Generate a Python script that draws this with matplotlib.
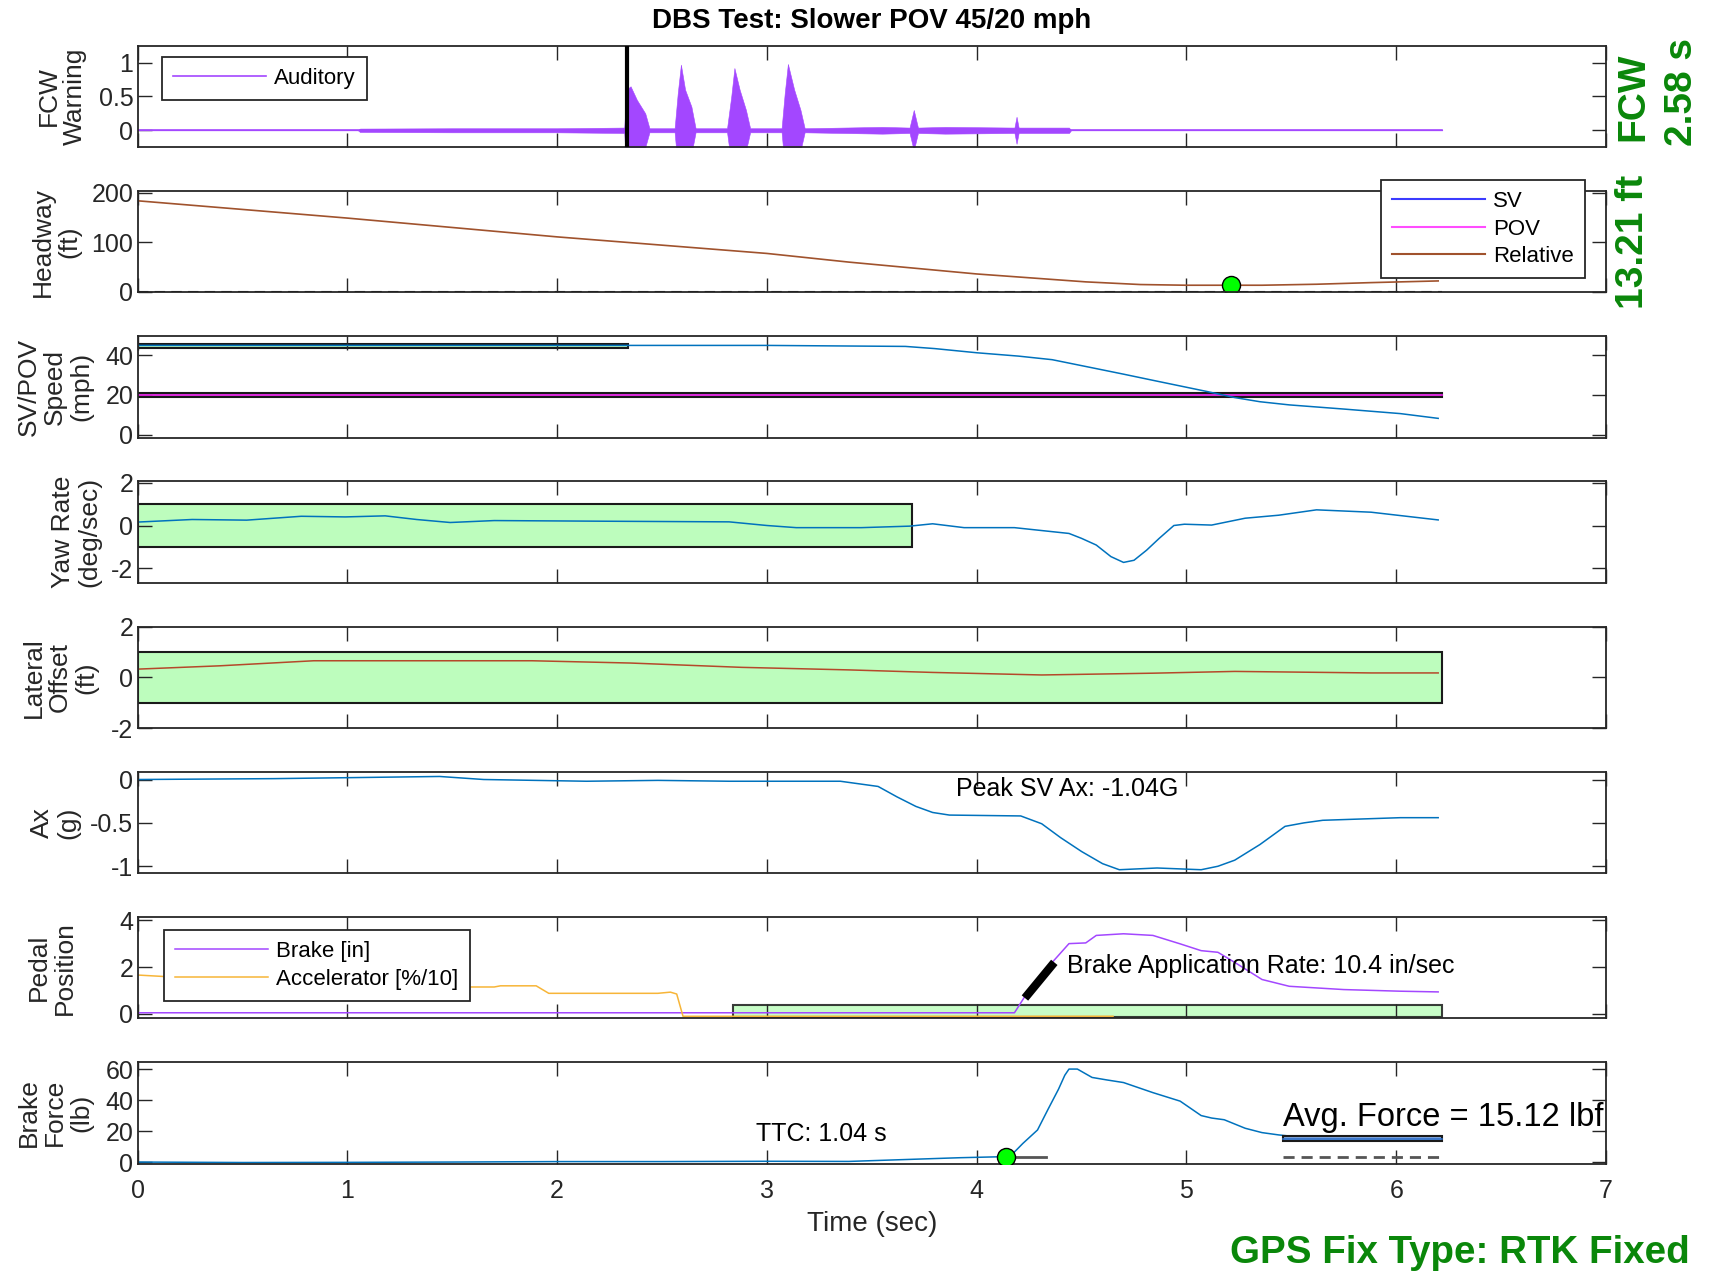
import matplotlib
matplotlib.use('Agg')
import matplotlib.pyplot as plt
from matplotlib.patches import Rectangle
from matplotlib.lines import Line2D

plt.rcParams['font.family'] = ['Liberation Sans', 'DejaVu Sans']

# ---------------- data ----------------
# FCW auditory signal, drawn as an envelope (+/- amplitude)
fcw_t = [0, 1.05, 1.06, 1.5, 2.0, 2.32, 2.33, 2.35, 2.38, 2.42, 2.44, 2.56, 2.575, 2.59,
         2.61, 2.64, 2.66, 2.81, 2.83, 2.845, 2.87, 2.90, 2.92, 3.07, 3.085, 3.10, 3.13,
         3.16, 3.18, 3.55, 3.68, 3.70, 3.72, 3.85, 4.18, 4.19, 4.20, 4.44, 4.45, 6.22]
fcw_amp = [0, 0, 0.025, 0.03, 0.03, 0.04, 0.6, 0.65, 0.45, 0.25, 0.03, 0.03, 0.55, 0.97,
           0.6, 0.35, 0.03, 0.03, 0.5, 0.92, 0.6, 0.3, 0.03, 0.03, 0.55, 0.98, 0.6,
           0.3, 0.03, 0.05, 0.04, 0.3, 0.04, 0.05, 0.04, 0.2, 0.04, 0.04, 0, 0]
fcw_time = 2.335

hw_t = [0, 1, 2, 3, 3.39, 4, 4.52, 4.78, 5.0, 5.21, 5.36, 5.62, 5.88, 6.2]
hw_rel = [184, 149, 111, 77.5, 60, 36, 20, 14.6, 13.2, 13.2, 13.2, 15.2, 18.5, 21.9]
hw_min_t, hw_min = 5.21, 13.2

sv_t = [0, 1, 2, 3, 3.39, 3.66, 3.8, 4.0, 4.2, 4.36, 4.57, 4.7, 4.84, 5.1, 5.23, 5.35,
        5.49, 5.75, 6.02, 6.2]
sv_speed = [45, 45, 45, 45, 44.7, 44.5, 43.4, 41.3, 39.6, 37.8, 33.3, 30.5, 27.4, 21.7,
            18.7, 16.6, 15, 12.9, 10.6, 8.2]
pov_speed = 20
sv_band = (0, 2.34, 43.8, 45.8)
pov_band = (0, 6.22, 18.8, 21.2)

yaw_t = [0, 0.26, 0.52, 0.78, 0.99, 1.18, 1.33, 1.49, 1.70, 2.22, 2.82, 3.0, 3.14, 3.45,
         3.68, 3.79, 3.94, 4.18, 4.44, 4.5, 4.57, 4.64, 4.70, 4.75, 4.81, 4.87, 4.94,
         4.99, 5.12, 5.28, 5.44, 5.62, 5.88, 6.2]
yaw_rate = [0.16, 0.28, 0.25, 0.43, 0.40, 0.45, 0.28, 0.14, 0.23, 0.2, 0.17, 0.0, -0.1,
            -0.1, -0.03, 0.08, -0.1, -0.1, -0.37, -0.6, -0.91, -1.45, -1.72, -1.62, -1.15,
            -0.6, 0.0, 0.06, 0.02, 0.34, 0.48, 0.73, 0.62, 0.26]
yaw_band = (0, 3.69, -1, 1)

lat_t = [0, 0.39, 0.84, 1.88, 2.35, 2.88, 3.39, 3.79, 4.31, 4.84, 5.23, 5.88, 6.2]
lat_off = [0.32, 0.45, 0.65, 0.65, 0.56, 0.39, 0.29, 0.19, 0.09, 0.16, 0.23, 0.17, 0.17]
lat_band = (0, 6.22, -1, 1)

ax_t = [0, 0.65, 1.44, 1.65, 2.14, 2.48, 2.82, 3.35, 3.53, 3.62, 3.71, 3.79, 3.87, 4.21,
        4.31, 4.4, 4.5, 4.6, 4.68, 4.86, 5.07, 5.15, 5.23, 5.35, 5.47, 5.56, 5.65, 6.02, 6.2]
ax_g = [0, 0.01, 0.035, 0, -0.02, -0.01, -0.02, -0.02, -0.08, -0.2, -0.31, -0.38, -0.41,
        -0.42, -0.51, -0.67, -0.83, -0.97, -1.04, -1.02, -1.04, -1.0, -0.93, -0.75, -0.54,
        -0.5, -0.47, -0.44, -0.44]

brk_t = [0, 4.18, 4.23, 4.36, 4.44, 4.52, 4.57, 4.7, 4.84, 4.97, 5.07, 5.15, 5.23, 5.36,
         5.49, 5.75, 6.02, 6.2]
brk_in = [0.05, 0.05, 0.75, 2.2, 3.0, 3.03, 3.35, 3.42, 3.35, 2.99, 2.70, 2.63, 2.2, 1.47,
          1.18, 1.04, 0.97, 0.94]
acc_t = [0, 0.12, 0.6, 1.2, 1.58, 1.7, 1.73, 1.9, 1.96, 2.48, 2.54, 2.57, 2.6, 4.65]
acc_pct = [1.66, 1.6, 1.45, 1.25, 1.15, 1.15, 1.2, 1.2, 0.88, 0.88, 0.93, 0.85, -0.1, -0.1]
pedal_band = (2.84, 6.22, -0.15, 0.4)
rate_seg_t = [4.23, 4.37]
rate_seg_v = [0.68, 2.2]

bf_t = [0, 0.5, 1.0, 1.5, 2.0, 2.5, 3.0, 3.39, 3.92, 4.14, 4.18, 4.22, 4.29, 4.34, 4.39,
        4.42, 4.44, 4.48, 4.55, 4.62, 4.7, 4.84, 4.97, 5.07, 5.12, 5.18, 5.28, 5.36, 5.44,
        5.49, 5.8, 6.2]
bf_lb = [0, -0.3, -0.2, 0, 0.3, 0.3, 0.5, 0.4, 2.8, 3.5, 6.5, 12, 20.7, 34, 47, 56, 60, 60,
         54.6, 53, 51.3, 44.8, 39.3, 30, 28.4, 27.3, 21.8, 19, 17.5, 16.8, 15.2, 15.1]
ttc_t, ttc_lb = 4.14, 3.5
avg_t0, avg_t1, avg_force = 5.46, 6.22, 15.12
preload = 3.5

# ---------------- layout ----------------
W, H = 1713, 1274
fig = plt.figure(figsize=(W / 100, H / 100), dpi=100)

ylabels = ['FCW\nWarning', 'Headway\n(ft)', 'SV/POV\nSpeed\n(mph)', 'Yaw Rate\n(deg/sec)',
           'Lateral\nOffset\n(ft)', 'Ax\n(g)', 'Pedal\nPosition', 'Brake\nForce\n(lb)']
label_x = [62, 56, 55, 76, 60, 55, 52, 55]
ylims = [(-0.25, 1.25), (-1.3, 204), (-1.5, 49.7), (-2.67, 2.06), (-2, 2),
         (-1.08, 0.09), (-0.19, 4.14), (-1, 64.5)]
yticks = [[0, 0.5, 1], [0, 100, 200], [0, 20, 40], [-2, 0, 2], [-2, 0, 2],
          [-1, -0.5, 0], [0, 2, 4], [0, 20, 40, 60]]

ink = '#262626'
green_fill = '#BDFDBD'
axes = []
for i in range(8):
    top = 45.7 + 145.2 * i
    h = 101.5
    ax = fig.add_axes([137.6 / W, 1 - (top + h) / H, 1468.4 / W, h / H])
    ax.set_xlim(0, 7)
    ax.set_ylim(*ylims[i])
    ax.set_xticks(range(8))
    ax.set_yticks(yticks[i])
    ax.set_yticklabels([f'{v:g}' for v in yticks[i]])
    ax.tick_params(direction='in', length=10, width=1, top=True, right=True,
                   labelsize=18, colors=ink, pad=3)
    ax.tick_params(axis='x', pad=11)
    if i < 7:
        ax.tick_params(labelbottom=False)
    for s in ax.spines.values():
        s.set_linewidth(1.3)
        s.set_color(ink)
    fig.text(label_x[i] / W, 1 - (top + h / 2) / H, ylabels[i], rotation=90,
             ha='center', va='center', fontsize=19, color=ink, linespacing=1.12)
    axes.append(ax)


def box(ax, b, fc, lw=1.5, alpha=1.0):
    x0, x1, y0, y1 = b
    ax.add_patch(Rectangle((x0, y0), x1 - x0, y1 - y0, facecolor=fc, edgecolor='#1a1a1a',
                           lw=lw, alpha=alpha, zorder=1))


def legend(ax, *args, **kw):
    leg = ax.legend(*args, fontsize=16, handlelength=4.2, handletextpad=0.35,
                    fancybox=False, edgecolor=ink, framealpha=1, borderpad=0.5,
                    labelspacing=0.3, borderaxespad=0, **kw)
    leg.get_frame().set_linewidth(1.3)
    return leg


purple = '#A347FF'
blue = '#0072BD'

# 1 FCW warning
ax = axes[0]
neg = [-a for a in fcw_amp]
ax.fill_between(fcw_t, neg, fcw_amp, color=purple, lw=0.4, zorder=2)
ax.plot(fcw_t, [0] * len(fcw_t), color=purple, lw=1.2, label='Auditory', zorder=2)
ax.axvline(fcw_time, color='black', lw=3, zorder=3)
legend(ax, loc='upper left', bbox_to_anchor=(0.0165, 0.89))

# 2 Headway
ax = axes[1]
ax.plot([0, 6.22], [0, 0], '--', color='black', lw=1.5, dashes=(5, 3))
ax.plot(hw_t, hw_rel, color='#A0522D', lw=1.2)
ax.plot(hw_min_t, hw_min, 'o', ms=13, mfc='#00FF00', mec='black', mew=1)
handles = [Line2D([], [], color='#3B3BFF', lw=1.5), Line2D([], [], color='#FF4DFF', lw=1.5),
           Line2D([], [], color='#A0522D', lw=1.5)]
legend(ax, handles, ['SV', 'POV', 'Relative'], loc='upper right',
       bbox_to_anchor=(0.9855, 1.11))

# 3 Speed
ax = axes[2]
box(ax, sv_band, green_fill)
box(ax, pov_band, '#8A8A8A')
ax.plot([pov_band[0], pov_band[1]], [pov_speed, pov_speed], color='#E020E0', lw=1.3, zorder=2)
ax.plot(sv_t, sv_speed, color=blue, lw=1.1, zorder=2)

# 4 Yaw rate
ax = axes[3]
box(ax, yaw_band, green_fill)
ax.plot(yaw_t, yaw_rate, color=blue, lw=1.1, zorder=2)

# 5 Lateral offset
ax = axes[4]
box(ax, lat_band, green_fill)
ax.plot(lat_t, lat_off, color='#B5482A', lw=1.1, zorder=2)

# 6 Ax
ax = axes[5]
ax.plot(ax_t, ax_g, color=blue, lw=1.1)
ax.text(4.43, -0.11, 'Peak SV Ax: -1.04G', ha='center', va='center', fontsize=18, color='black')

# 7 Pedal position
ax = axes[6]
ax.plot(brk_t, brk_in, color=purple, lw=1.1, label='Brake [in]', zorder=2)
ax.plot(acc_t, acc_pct, color='#F7B538', lw=1.1, label='Accelerator [%/10]', zorder=2)
box(ax, pedal_band, green_fill, alpha=0.85)
ax.plot(rate_seg_t, rate_seg_v, color='black', lw=6, solid_capstyle='butt', zorder=3)
ax.text(4.43, 2.05, 'Brake Application Rate: 10.4 in/sec', ha='left', va='center',
        fontsize=18, color='black')
legend(ax, loc='upper left', bbox_to_anchor=(0.018, 0.87))

# 8 Brake force
ax = axes[7]
ax.plot(bf_t, bf_lb, color=blue, lw=1.1, zorder=2)
ax.add_patch(Rectangle((avg_t0, avg_force - 1.5), avg_t1 - avg_t0, 3.0, facecolor='#7FA7E0',
                       edgecolor='#1a1a1a', lw=1.5, zorder=3))
ax.plot([avg_t0, avg_t1], [avg_force, avg_force], color='#2F6FC8', lw=1.2, zorder=4)
ax.plot([avg_t0, avg_t1], [preload, preload], '--', color='#555555', lw=2, dashes=(4, 2.5))
ax.plot([ttc_t, ttc_t + 0.19], [ttc_lb, ttc_lb], color='#555555', lw=2)
ax.plot(ttc_t, ttc_lb, 'o', ms=13, mfc='#00FF00', mec='black', mew=1, zorder=5)
ax.text(3.26, 18, 'TTC: 1.04 s', ha='center', va='center', fontsize=18, color='black')
ax.text(5.46, 28.5, 'Avg. Force = 15.12 lbf', ha='left', va='center', fontsize=23.5,
        color='black')
ax.set_xlabel('Time (sec)', fontsize=20, color=ink, labelpad=6)

# titles and annotations
green = '#0A870A'
fig.text(872 / W, 1 - 20.5 / H, 'DBS Test: Slower POV 45/20 mph', ha='center', va='center',
         fontsize=20, fontweight='bold')
fig.text(1633 / W, 1 - 97 / H, 'FCW', rotation=90, ha='center', va='center',
         fontsize=28, fontweight='bold', color=green)
fig.text(1682 / W, 1 - 92 / H, '2.58 s', rotation=90, ha='center', va='center',
         fontsize=28, fontweight='bold', color=green)
fig.text(1633 / W, 1 - 242 / H, '13.21 ft', rotation=90, ha='center', va='center',
         fontsize=28, fontweight='bold', color=green)
fig.text(1690 / W, 1 - 1253 / H, 'GPS Fix Type: RTK Fixed', ha='right', va='center',
         fontsize=27.7, fontweight='bold', color=green)

fig.savefig('out.png', dpi=100)
